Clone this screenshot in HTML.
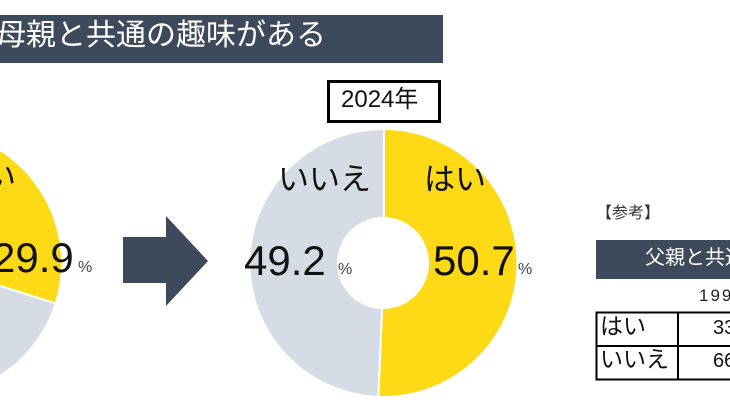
<!DOCTYPE html>
<html><head><meta charset="utf-8"><style>
html,body{margin:0;width:730px;height:410px;overflow:hidden;background:#fff}
#w{position:relative;width:730px;height:410px;overflow:hidden;font-family:"Liberation Sans","Noto Sans CJK JP",sans-serif}
.a{position:absolute;white-space:nowrap;line-height:1}
</style></head><body><div id="w">
<svg class="a" style="left:0;top:0" width="730" height="410">
<rect x="0" y="15" width="443" height="48" fill="#3d4a5c"/>
<path d="M-72,263 L-72,129 A134,134 0 0 1 55.7,303.6 Z" fill="#fdd916" stroke="#fff" stroke-width="2"/>
<path d="M-72,263 L55.7,303.6 A134,134 0 1 1 -72,129 Z" fill="#d5dce5" stroke="#fff" stroke-width="2"/>
<path d="M123,237 L166,237 L166,216 L208,261 L166,306 L166,283 L123,283 Z" fill="#3d4a5c"/>
<path d="M384,129 A134,134 0 1 1 378.3,396.9 L382.1,308 A45,45 0 1 0 384,218 Z" fill="#fdd916" stroke="#fff" stroke-width="2"/>
<path d="M378.3,396.9 A134,134 0 0 1 384,129 L384,218 A45,45 0 0 0 382.1,308 Z" fill="#d5dce5" stroke="#fff" stroke-width="2"/>
<rect x="328.5" y="81.5" width="111" height="40" fill="#fff" stroke="#000" stroke-width="3"/>
<rect x="596" y="240" width="134" height="39" fill="#3d4a5c"/>
<rect x="596.5" y="312.5" width="140" height="67" fill="none" stroke="#000" stroke-width="2"/>
<line x1="596" y1="346" x2="730" y2="346" stroke="#000" stroke-width="2"/>
<line x1="678" y1="312" x2="678" y2="380" stroke="#000" stroke-width="2"/>
</svg>
<div class="a" style="left:-4px;top:21px;font-size:30px;color:#fff">母親と共通の趣味がある</div>
<div class="a" style="left:341px;top:88px;font-size:24px;color:#111">2024年</div>
<div class="a" style="left:-46px;top:162px;font-size:31px;color:#111">はい</div>
<div class="a" style="left:-8px;top:237px;font-size:42px;color:#111">29.9</div>
<div class="a" style="left:78px;top:260px;font-size:16px;color:#444">%</div>
<div class="a" style="left:278px;top:164px;font-size:31px;color:#111">いいえ</div>
<div class="a" style="left:424px;top:164px;font-size:31px;color:#111">はい</div>
<div class="a" style="left:244px;top:240px;font-size:42px;color:#111">49.2</div>
<div class="a" style="left:338px;top:262px;font-size:16px;color:#444">%</div>
<div class="a" style="left:433px;top:240px;font-size:42px;color:#111">50.7</div>
<div class="a" style="left:518px;top:262px;font-size:16px;color:#444">%</div>
<div class="a" style="left:596px;top:206px;font-size:16px;color:#333">【参考】</div>
<div class="a" style="left:645px;top:248px;font-size:20px;color:#fff">父親と共通の趣味がある</div>
<div class="a" style="left:699px;top:287px;font-size:17px;color:#222;letter-spacing:2px">1990年</div>
<div class="a" style="left:600px;top:315px;font-size:23px;color:#111">はい</div>
<div class="a" style="left:600px;top:348px;font-size:23px;color:#111">いいえ</div>
<div class="a" style="left:713px;top:318px;font-size:20px;color:#111">33.0</div>
<div class="a" style="left:713px;top:351px;font-size:20px;color:#111">66.0</div>
</div></body></html>
